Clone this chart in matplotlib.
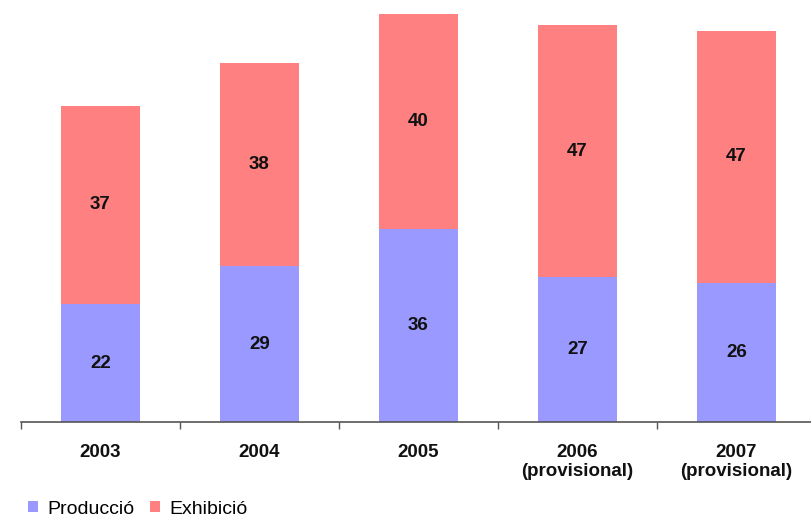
import matplotlib
matplotlib.use("Agg")
import matplotlib.pyplot as plt
from matplotlib.patches import Patch
import numpy as np

categories = ["2003", "2004", "2005", "2006\n(provisional)", "2007\n(provisional)"]
produccio = [22, 29, 36, 27, 26]
exhibicio = [37, 38, 40, 47, 47]

plt.rcParams['font.family'] = ['Liberation Sans', 'DejaVu Sans']

W, H = 812, 522
fig = plt.figure(figsize=(W/100, H/100), dpi=100)
x0 = 21 / W
x1 = 816 / W
ybot = 1 - 422 / H
ax = fig.add_axes([x0, ybot, x1 - x0, 1 - ybot])

blue = "#9999FF"
red = "#FF8080"
x = np.arange(len(categories))
ax.bar(x, produccio, width=0.5, color=blue, edgecolor="none")
ax.bar(x, exhibicio, width=0.5, bottom=produccio, color=red, edgecolor="none")

for i in range(len(categories)):
    ax.text(x[i], produccio[i] / 2, str(produccio[i]), ha="center", va="center",
            fontsize=13.5, fontweight="bold", color="#111111")
    ax.text(x[i], produccio[i] + exhibicio[i] / 2, str(exhibicio[i]), ha="center", va="center",
            fontsize=13.5, fontweight="bold", color="#111111")

ax.set_xlim(-0.5, len(categories) - 0.5)
ax.set_ylim(0, 78.7)
for s in ["top", "right", "left"]:
    ax.spines[s].set_visible(False)
ax.spines["bottom"].set_color("#555555")
ax.spines["bottom"].set_linewidth(1.2)
ax.set_yticks([])
ax.set_xticks(np.arange(len(categories) + 1) - 0.5)
ax.set_xticklabels([])
ax.set_xticks(x, minor=True)
ax.set_xticklabels(categories, minor=True, fontsize=13.5, fontweight="bold", color="#111111",
                   linespacing=1.15)
ax.tick_params(axis="x", which="major", length=5, color="#555555", width=1)
ax.tick_params(axis="x", which="minor", length=0, pad=16)

handles = [Patch(facecolor=blue, edgecolor="none", label="Producció"),
           Patch(facecolor=red, edgecolor="none", label="Exhibició")]
fig.legend(handles=handles, loc="center left", bbox_to_anchor=(14 / W, 1 - 509 / H),
           ncol=2, frameon=False, fontsize=14, handlelength=0.55, handleheight=0.55,
           handletextpad=0.45, columnspacing=0.8, borderpad=0.2)

fig.savefig("out.png", dpi=100)
